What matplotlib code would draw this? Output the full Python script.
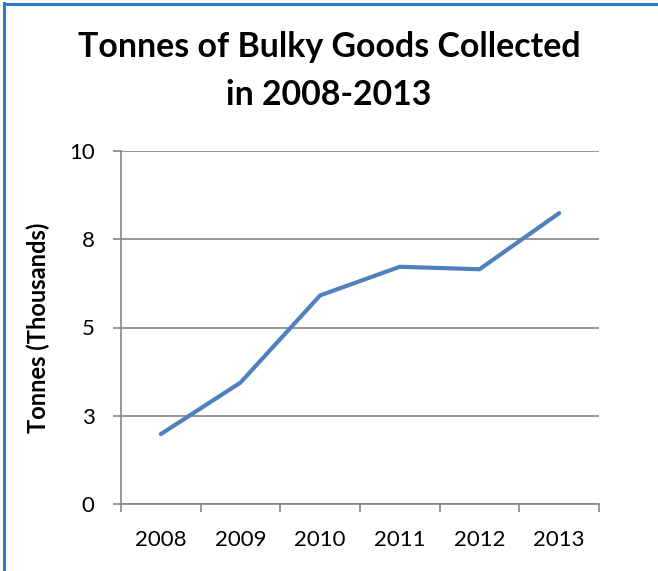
import matplotlib
matplotlib.use("Agg")
import matplotlib.pyplot as plt
from matplotlib.lines import Line2D

# bulky goods collected per year, thousands of tonnes
years = ["2008", "2009", "2010", "2011", "2012", "2013"]
tonnes = [1.98, 3.44, 5.91, 6.72, 6.65, 8.24]
y_ticks = [0, 2.5, 5, 7.5, 10]
y_tick_labels = ["0", "3", "5", "8", "10"]

plt.rcParams["font.family"] = ["Lato", "DejaVu Sans"]
grey = "#868686"

fig = plt.figure(figsize=(6.58, 5.71), dpi=100)
ax = fig.add_axes([121 / 658, 1 - 504 / 571, 478 / 658, 353 / 571])

x = list(range(len(years)))
ax.plot(x, tonnes, color="#4F81BD", linewidth=3.0, solid_capstyle="round",
        solid_joinstyle="round", zorder=3)

ax.set_xlim(-0.5, len(years) - 0.5)
ax.set_ylim(0, 10)
ax.set_yticks(y_ticks)
ax.set_yticklabels(y_tick_labels, fontsize=16)
ax.set_xticks(x)
ax.set_xticklabels(years, fontsize=16)
ax.set_xticks([i - 0.5 for i in range(len(years) + 1)], minor=True)

ax.tick_params(axis="x", which="major", length=0, pad=19)
ax.tick_params(axis="x", which="minor", length=6, width=1.2, color=grey,
               direction="out")
ax.tick_params(axis="y", length=6, width=1.2, color=grey, direction="out", pad=13)

ax.grid(axis="y", color=grey, linewidth=1.2, zorder=1)
for side in ["top", "right"]:
    ax.spines[side].set_visible(False)
for side in ["left", "bottom"]:
    ax.spines[side].set_color(grey)
    ax.spines[side].set_linewidth(1.2)

ax.set_ylabel("Tonnes (Thousands)", fontsize=17, fontweight="bold")
ax.yaxis.set_label_coords(-0.149, 0.5)

fig.text(0.5, 1 - 47 / 571, "Tonnes of Bulky Goods Collected", ha="center",
         va="center", fontsize=24.4, fontweight="bold")
fig.text(0.5, 1 - 95 / 571, "in 2008-2013", ha="center", va="center",
         fontsize=24.4, fontweight="bold")

# chart frame on the left and top edges
fig.add_artist(Line2D([3.5 / 658, 3.5 / 658], [0, 1 - 3 / 571],
                      color="#2E7BCF", linewidth=2.2))
fig.add_artist(Line2D([3.5 / 658, 1], [1 - 3.5 / 571, 1 - 3.5 / 571],
                      color="#2E7BCF", linewidth=2.2))

fig.savefig("out.png", dpi=100)
